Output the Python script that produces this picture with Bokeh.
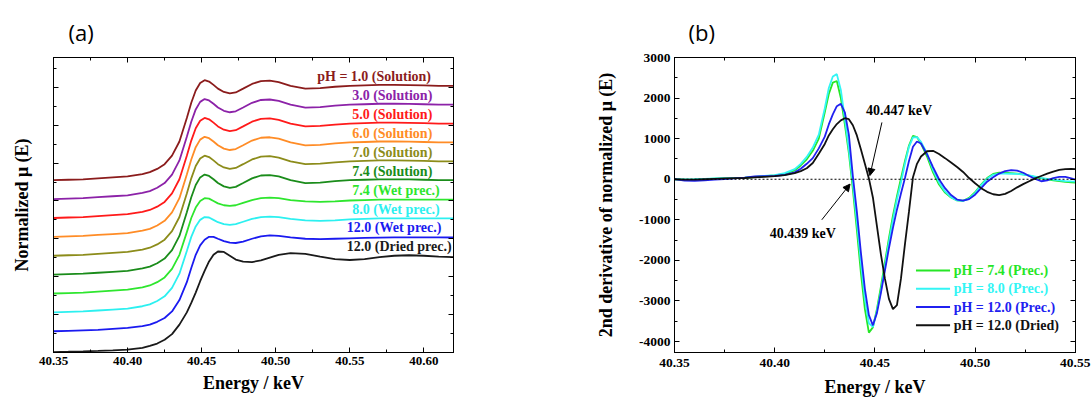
from bokeh.plotting import figure
from bokeh.models import (Range1d, LinearAxis, SingleIntervalTicker, PrintfTickFormatter,
                          CustomJSTickFormatter, Span, Arrow, NormalHead, Label, ColumnDataSource)
from bokeh.layouts import row
from bokeh.embed import file_html
from bokeh.resources import INLINE
from bokeh.core.properties import value

# ---------------- Panel (a): normalized XANES spectra ----------------
energy_a = [40.350, 40.360, 40.370, 40.380, 40.390, 40.400, 40.410, 40.415, 40.420, 40.425,
            40.430, 40.435, 40.440, 40.443, 40.446, 40.449, 40.452, 40.455, 40.458, 40.461,
            40.465, 40.469, 40.473, 40.478, 40.484, 40.490, 40.496, 40.502, 40.510, 40.520,
            40.530, 40.540, 40.550, 40.560, 40.570, 40.580, 40.590, 40.600, 40.610, 40.620]

mu_solution = [0.02, 0.025, 0.03, 0.04, 0.05, 0.06, 0.085, 0.105, 0.14, 0.19,
               0.28, 0.43, 0.68, 0.84, 0.97, 1.05, 1.08, 1.065, 1.03, 0.99,
               0.955, 0.94, 0.95, 0.99, 1.04, 1.07, 1.075, 1.06, 1.02, 0.99,
               0.995, 1.01, 1.02, 1.025, 1.03, 1.03, 1.028, 1.025, 1.02, 1.02]

mu_wet = [0.02, 0.025, 0.03, 0.04, 0.05, 0.06, 0.085, 0.105, 0.14, 0.19,
          0.28, 0.43, 0.67, 0.82, 0.93, 1.0, 1.03, 1.025, 1.0, 0.975,
          0.955, 0.948, 0.955, 0.98, 1.01, 1.03, 1.035, 1.03, 1.01, 0.995,
          0.99, 0.995, 1.005, 1.01, 1.015, 1.015, 1.015, 1.015, 1.015, 1.015]

mu_wet12 = [0.02, 0.025, 0.03, 0.035, 0.045, 0.055, 0.075, 0.09, 0.12, 0.16,
            0.23, 0.35, 0.54, 0.69, 0.83, 0.93, 0.99, 1.02, 1.02, 1.0,
            0.975, 0.958, 0.955, 0.97, 1.0, 1.025, 1.035, 1.03, 1.015, 1.0,
            0.995, 1.0, 1.005, 1.01, 1.012, 1.014, 1.015, 1.015, 1.014, 1.013]

mu_dried = [0.0, 0.003, 0.007, 0.012, 0.018, 0.025, 0.045, 0.065, 0.09, 0.13,
            0.19, 0.29, 0.42, 0.52, 0.63, 0.75, 0.86, 0.96, 1.03, 1.065,
            1.06, 1.02, 0.98, 0.957, 0.953, 0.97, 1.0, 1.03, 1.048, 1.04,
            1.01, 0.985, 0.975, 0.985, 1.005, 1.02, 1.025, 1.02, 1.01, 1.005]

labels_a = ["pH = 1.0 (Solution)", "3.0 (Solution)", "5.0 (Solution)", "6.0 (Solution)",
            "7.0 (Solution)", "7.4 (Solution)", "7.4 (Wet prec.)", "8.0 (Wet prec.)",
            "12.0 (Wet prec.)", "12.0 (Dried prec.)"]
spectra_a = [mu_solution, mu_solution, mu_solution, mu_solution, mu_solution, mu_solution,
             mu_wet, mu_wet, mu_wet12, mu_dried]
colors_a = ["#8B1C1C", "#8C22A8", "#FF1A1A", "#FF8C26", "#8C8C1A", "#1A8C1A",
            "#2EE62E", "#2CF0F0", "#1A1AF0", "#1A1A1A"]
offset_step = 0.2

# ---------------- Panel (b): 2nd derivative ----------------
energy_b = [40.350, 40.355, 40.360, 40.365, 40.370, 40.375, 40.380, 40.385, 40.390, 40.395,
            40.400, 40.405, 40.410, 40.413, 40.416, 40.419, 40.422, 40.425, 40.427, 40.429,
            40.431, 40.433, 40.435, 40.437, 40.439, 40.441, 40.443, 40.445, 40.447, 40.449,
            40.451, 40.453, 40.455, 40.457, 40.459, 40.461, 40.463, 40.465, 40.467, 40.469,
            40.471, 40.473, 40.476, 40.479, 40.482, 40.485, 40.488, 40.491, 40.494, 40.497,
            40.500, 40.503, 40.506, 40.509, 40.512, 40.515, 40.518, 40.521, 40.524, 40.527,
            40.530, 40.533, 40.536, 40.539, 40.542, 40.545, 40.548, 40.550]

d2_ph74 = [0, -10, -5, 5, 15, 20, 25, 35, 55, 75,
           95, 130, 220, 340, 490, 700, 1000, 1650, 2100, 2380,
           2420, 2000, 1350, 650, -250, -1250, -2300, -3200, -3780, -3650,
           -3200, -2650, -2050, -1450, -900, -420, 20, 450, 830, 1070,
           1040, 880, 560, 170, -130, -330, -450, -520, -530, -460,
           -320, -130, 30, 130, 165, 160, 150, 140, 120, 90,
           55, 20, -5, -25, -45, -65, -78, -85]

d2_ph80 = [0, -5, 0, 10, 20, 25, 30, 40, 60, 80,
           100, 150, 250, 380, 550, 780, 1100, 1750, 2250, 2530,
           2590, 2200, 1500, 750, -100, -1050, -2050, -2950, -3550, -3640,
           -3250, -2750, -2150, -1550, -1000, -500, -80, 380, 800, 1030,
           1040, 920, 640, 230, -80, -300, -440, -520, -535, -480,
           -340, -150, 10, 110, 140, 140, 135, 130, 115, 95,
           65, 35, 10, -10, -30, -45, -55, -60]

d2_ph120 = [0, -35, -40, -30, -10, 5, 20, 40, 70, 75,
            80, 110, 170, 260, 380, 520, 760, 1050, 1350, 1600,
            1800, 1860, 1650, 1100, 80, -800, -1800, -2700, -3350, -3600,
            -3300, -2800, -2250, -1700, -1200, -750, -350, 30, 450, 800,
            930, 880, 620, 300, 0, -220, -390, -500, -530, -490,
            -380, -220, -60, 50, 140, 200, 225, 210, 160, 80,
            5, -50, -30, 30, 60, 60, 20, -10]

d2_dried = [0, -10, -10, 0, 10, 20, 25, 30, 45, 60,
            75, 100, 150, 200, 270, 400, 630, 870, 1080, 1230,
            1360, 1450, 1505, 1480, 1330, 1080, 740, 380, 20, -450,
            -1150, -1850, -2450, -2950, -3200, -3100, -2450, -1600, -800, 50,
            380, 560, 690, 700, 620, 520, 410, 300, 180, 30,
            -100, -220, -310, -370, -390, -360, -290, -200, -120, -50,
            20, 80, 140, 190, 230, 250, 255, 250]

labels_b = ["pH = 7.4 (Prec.)", "pH = 8.0 (Prec.)", "pH = 12.0 (Prec.)", "pH = 12.0 (Dried)"]
series_b = [d2_ph74, d2_ph80, d2_ph120, d2_dried]
colors_b = ["#26E626", "#33F5F5", "#2020F0", "#111111"]
crossings_keV = [40.439, 40.447]

SERIF = "Liberation Serif"
BLANK = CustomJSTickFormatter(code="return ''")


def style_axis(ax, show_labels, size="13px"):
    ax.major_tick_in = 5
    ax.major_tick_out = 0
    ax.minor_tick_in = 3
    ax.minor_tick_out = 0
    ax.axis_line_color = "black"
    ax.major_tick_line_color = "black"
    ax.minor_tick_line_color = "black"
    ax.major_label_text_font = SERIF
    ax.major_label_text_font_style = "bold"
    ax.major_label_text_color = "black"
    ax.major_label_text_font_size = size
    ax.axis_label_text_font = SERIF
    ax.axis_label_text_font_style = "bold"
    ax.axis_label_text_font_size = "18px"
    ax.axis_label_text_color = "black"
    if not show_labels:
        ax.formatter = BLANK
        ax.major_label_standoff = 0


def style_title(p, txt, offset):
    p.title.text = txt
    p.title.text_font = "Open Sans"
    p.title.text_font_style = "normal"
    p.title.text_font_size = "22px"
    p.title.text_color = "black"
    p.title.align = "left"
    p.title.offset = offset
    p.title.standoff = 21


# ---------------- figure (a) ----------------
pa = figure(width=560, height=402, x_range=Range1d(40.35, 40.62), y_range=Range1d(-0.005, 3.12),
            output_backend="svg", toolbar_location=None,
            min_border_left=53, min_border_right=107, min_border_top=57, min_border_bottom=47)
pa.grid.visible = False
pa.outline_line_color = "black"
style_title(pa, "(a)", 15)

xt_a = SingleIntervalTicker(interval=0.05, num_minor_ticks=2)
yt_a = SingleIntervalTicker(interval=0.4, num_minor_ticks=2)
pa.xaxis.ticker = xt_a
pa.yaxis.ticker = yt_a
pa.xaxis.formatter = PrintfTickFormatter(format="%.2f")
pa.xaxis.axis_label = "Energy / keV"
pa.yaxis.axis_label = "Normalized μ (E)"
style_axis(pa.xaxis[0], True)
style_axis(pa.yaxis[0], False)
pa.xaxis.major_label_standoff = 4
pa.xaxis.axis_label_standoff = 5
pa.yaxis.axis_label_standoff = 22
top_a = LinearAxis(ticker=xt_a)
right_a = LinearAxis(ticker=yt_a)
style_axis(top_a, False)
style_axis(right_a, False)
pa.add_layout(top_a, "above")
pa.add_layout(right_a, "right")

n_a = len(spectra_a)
lab_x, lab_y = [], []
for i, (lab, mu, col) in enumerate(zip(labels_a, spectra_a, colors_a)):
    off = offset_step * (n_a - 1 - i)
    pa.line(energy_a, [v + off for v in mu], line_color=col, line_width=1.8)
    if lab.startswith("pH"):
        lab_x.append(40.528)
    elif lab.startswith("12"):
        lab_x.append(40.548)
    else:
        lab_x.append(40.5516)
    lab_y.append(off + 1.115)
src_lab = ColumnDataSource(dict(x=lab_x, y=lab_y, text=labels_a, color=colors_a))
pa.text(x="x", y="y", text="text", text_color="color", source=src_lab,
        text_font=value(SERIF), text_font_style="bold", text_font_size="14px",
        text_align="left", text_baseline="middle")

# ---------------- figure (b) ----------------
pb = figure(width=531, height=402, x_range=Range1d(40.35, 40.5501), y_range=Range1d(-4270, 3000),
            output_backend="svg", toolbar_location=None,
            min_border_left=114, min_border_right=16, min_border_top=56, min_border_bottom=50)
pb.grid.visible = False
pb.outline_line_color = "black"
style_title(pb, "(b)", 14)

xt_b = SingleIntervalTicker(interval=0.05, num_minor_ticks=2)
yt_b = SingleIntervalTicker(interval=1000, num_minor_ticks=2)
pb.xaxis.ticker = xt_b
pb.yaxis.ticker = yt_b
pb.xaxis.formatter = PrintfTickFormatter(format="%.2f")
pb.yaxis.formatter = PrintfTickFormatter(format="%d")
pb.xaxis.axis_label = "Energy / keV"
pb.yaxis.axis_label = "2nd derivative of normalized μ (E)"
style_axis(pb.xaxis[0], True, "13.5px")
style_axis(pb.yaxis[0], True, "13.5px")
pb.xaxis.major_label_standoff = 6
pb.xaxis.axis_label_standoff = 7
pb.yaxis.major_label_standoff = 4
pb.yaxis.axis_label_standoff = 20
top_b = LinearAxis(ticker=xt_b)
right_b = LinearAxis(ticker=yt_b)
style_axis(top_b, False)
style_axis(right_b, False)
pb.add_layout(top_b, "above")
pb.add_layout(right_b, "right")

pb.add_layout(Span(location=0, dimension="width", line_color="black", line_dash="2 2", line_width=1.2))

for d2, col in zip(series_b, colors_b):
    pb.line(energy_b, d2, line_color=col, line_width=1.8)

# annotations for zero crossings
e_lo, e_hi = crossings_keV
pb.add_layout(Arrow(end=NormalHead(size=7, fill_color="black", line_color="black"),
                    x_start=e_hi + 0.0065, y_start=1400, x_end=e_hi + 0.0005, y_end=90,
                    line_color="black", line_width=1))
pb.add_layout(Label(x=e_hi + 0.015, y=1690, text=f"{e_hi:.3f} keV", text_font=SERIF,
                    text_font_style="bold", text_font_size="14px", text_align="center",
                    text_baseline="middle", text_color="black"))
pb.add_layout(Arrow(end=NormalHead(size=7, fill_color="black", line_color="black"),
                    x_start=e_lo - 0.0155, y_start=-1000, x_end=e_lo - 0.0014, y_end=-120,
                    line_color="black", line_width=1))
pb.add_layout(Label(x=e_lo - 0.025, y=-1340, text=f"{e_lo:.3f} keV", text_font=SERIF,
                    text_font_style="bold", text_font_size="14px", text_align="center",
                    text_baseline="middle", text_color="black"))

# hand-drawn legend with coloured texts
leg_x0, leg_x1, leg_tx = 40.4705, 40.4875, 40.4893
leg_y0, leg_dy = -2250, -450
for k, (lab, col) in enumerate(zip(labels_b, colors_b)):
    yk = leg_y0 + k * leg_dy
    pb.line([leg_x0, leg_x1], [yk, yk], line_color=col, line_width=2)
    pb.add_layout(Label(x=leg_tx, y=yk, text=lab, text_font=SERIF, text_font_style="bold",
                        text_font_size="14px", text_align="left", text_baseline="middle",
                        text_color=col))

layout = row(pa, pb)
open("out.html", "w").write(file_html(layout, INLINE))
